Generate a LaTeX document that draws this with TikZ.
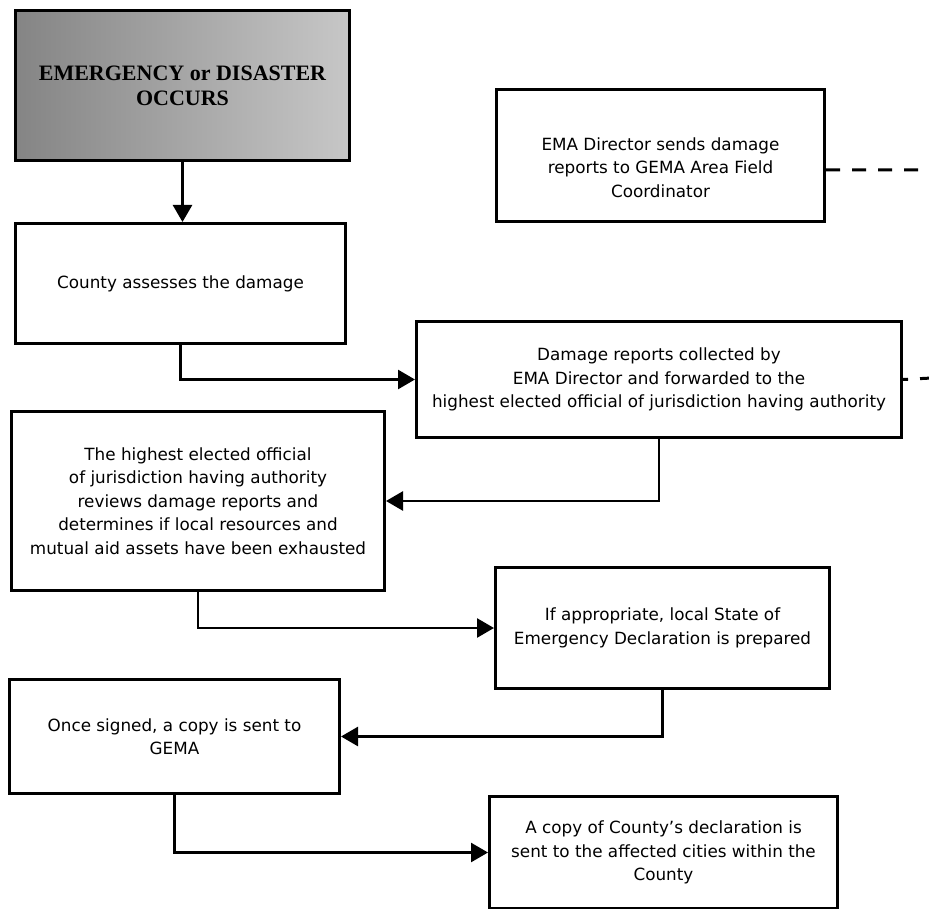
\documentclass[tikz,border=0pt]{standalone}
\usepackage{fontspec}
\setmainfont{DejaVu Sans}
\newfontfamily\titlefont{Liberation Serif}
\usetikzlibrary{arrows.meta,calc}
\begin{document}
\begin{tikzpicture}[x=1pt,y=-1pt,
  box/.style={draw=black, line width=3pt, fill=white, align=center, inner sep=0pt,
    anchor=north west, font=\fontsize{16.8}{23.5}\selectfont},
  titlebox/.style={box, fill=none, left color=black!48, right color=black!22,
    font=\titlefont\bfseries\fontsize{22}{25}\selectfont},
  conn/.style={line width=2.6pt, -{Triangle[length=17pt,width=19pt]}},
  dsh/.style={line width=3pt, dash pattern=on 14pt off 12pt}]
\useasboundingbox (0,0) rectangle (929,909);
\fill[white] (0,0) rectangle (929,909);

\node[titlebox, minimum width=334pt, minimum height=150pt] (A) at (14,9)
  {EMERGENCY or DISASTER\\OCCURS};
\node[box, minimum width=330pt, minimum height=120pt] (B) at (14,222)
  {County assesses the damage};
\node[box, minimum width=328pt, minimum height=132pt] (C) at (495,88) {};
\node[font=\fontsize{16.8}{23.5}\selectfont, align=center, inner sep=0pt] (Ct)
  at ($(C.center)+(0,12)$)
  {EMA Director sends damage\\reports to GEMA Area Field\\Coordinator};
\node[box, minimum width=485pt, minimum height=116pt] (D) at (415,320)
  {Damage reports collected by\\EMA Director and forwarded to the\\highest elected official of jurisdiction having authority};
\node[box, minimum width=373pt, minimum height=179pt] (E) at (10,410)
  {The highest elected official\\of jurisdiction having authority\\reviews damage reports and\\determines if local resources and\\mutual aid assets have been exhausted};
\node[box, minimum width=334pt, minimum height=121pt] (F) at (494,566)
  {If appropriate, local State of\\Emergency Declaration is prepared};
\node[box, minimum width=330pt, minimum height=114pt] (G) at (8,678)
  {Once signed, a copy is sent to\\GEMA};
\node[box, minimum width=348pt, minimum height=112pt] (H) at (488,795)
  {A copy of County's declaration is\\sent to the affected cities within the\\County};

\coordinate (r1) at (932,170);
\coordinate (r2) at (932,378);

\draw[conn] (A.south) -- (A.south |- B.north);
\draw[conn] (B.south) |- (D.west);
\draw[conn] (D.south) |- (E.east);
\draw[conn] (E.south) |- (F.west);
\draw[conn] (F.south) |- (G.east);
\draw[conn] (G.south) |- (H.west);
\draw[dsh] (C.east |- r1) -- (r1) -- (r2) -- (D.east);
\end{tikzpicture}
\end{document}
